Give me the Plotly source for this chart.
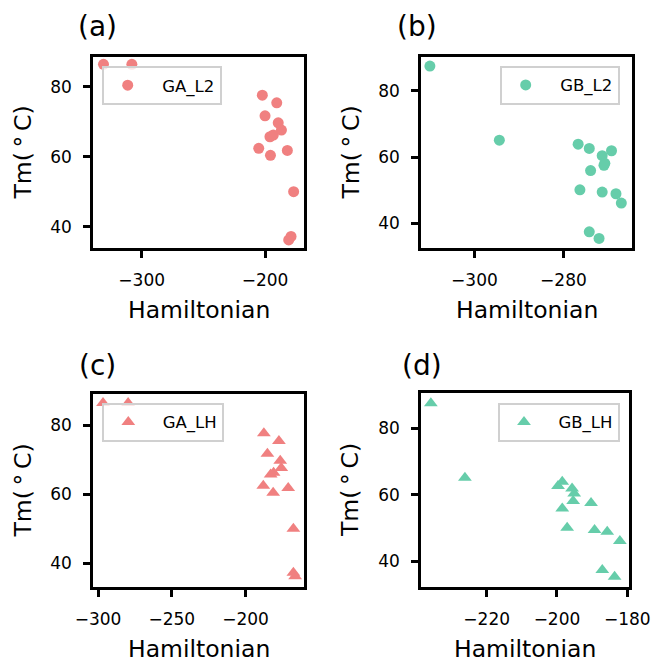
import plotly.graph_objects as go

W, H = 653, 662

# ---- data ----
ga_tm = [86.4, 86.4, 77.6, 75.4, 71.7, 69.7, 67.6, 66.2, 65.7, 62.4, 60.4, 61.8, 50.0, 37.2, 36.2]
ga_l2_ham = [-331, -308, -202.2, -190.5, -200, -189.3, -186.7, -193.3, -196, -205.1, -195.6, -181.9, -176.8, -178.9, -180.8]
ga_lh_ham = [-296.6, -279.6, -187.6, -177.4, -185.2, -176.5, -175.8, -181.0, -183.0, -188.0, -181.3, -171.1, -167.6, -167.6, -166.4]

gb_tm = [87.5, 65.1, 63.9, 62.6, 61.9, 60.4, 58.1, 57.5, 55.9, 50.1, 49.4, 48.9, 46.1, 37.4, 35.4]
gb_l2_ham = [-310, -294.4, -276.7, -274.2, -269.2, -271.3, -270.7, -270.9, -273.9, -276.3, -271.3, -268.2, -267.0, -274.2, -272.0]
gb_lh_ham = [-235.9, -226.2, -198.5, -199.7, -195.7, -195.1, -195.4, -190.3, -198.5, -197.1, -189.3, -185.7, -182.1, -187.1, -183.6]

series_names = ["GA_L2", "GB_L2", "GA_LH", "GB_LH"]
panel_labels = ["(a)", "(b)", "(c)", "(d)"]
x_title = "Hamiltonian"
y_title = "Tm(\u2009°\u2009C)"

RED = "#F08080"
GREEN = "#66CDAA"

def px_x(p):
    return p / W

def px_y(p):
    return 1 - p / H

# panel geometry in pixels: (left, right, top, bottom)
boxes = [(93, 304, 57, 248), (421, 632, 57, 248), (93, 304, 394, 587), (421, 629, 393, 587)]
xranges = [[-339.5, -168.4], [-312, -264.6], [-303.4, -160.4], [-238.7, -179.5]]
yranges = [[33.9, 88.5], [32.5, 90.25], [33.1, 89.0], [32.3, 90.55]]
xdticks = [100, 20, 50, 20]

datasets = [
    (ga_l2_ham, ga_tm, RED, "circle"),
    (gb_l2_ham, gb_tm, GREEN, "circle"),
    (ga_lh_ham, ga_tm, RED, "triangle-up"),
    (gb_lh_ham, gb_tm, GREEN, "triangle-up"),
]

fig = go.Figure()
FONT = "DejaVu Sans"
layout = dict(width=W, height=H, margin=dict(l=0, r=0, t=0, b=0),
              plot_bgcolor="white", paper_bgcolor="white", template="none",
              showlegend=True, annotations=[])

legend_pos = [(101.7, 66), (499.7, 65.7), (102.3, 402.7), (498, 402.7)]

for i, (xs, ys, col, sym) in enumerate(datasets):
    n = i + 1
    xa = "x" if n == 1 else f"x{n}"
    ya = "y" if n == 1 else f"y{n}"
    lg = "legend" if n == 1 else f"legend{n}"
    fig.add_trace(go.Scatter(
        x=xs, y=ys, mode="markers", name="\u00a0\u00a0" + series_names[i],
        xaxis=xa, yaxis=ya, legend=lg,
        marker=dict(color=col, symbol=sym, size=11 if sym == "circle" else 12,
                    line=dict(width=0)),
    ))
    l, r, t, b = boxes[i]
    axkw = dict(showline=True, mirror=True, linecolor="black", linewidth=2.5,
                ticks="outside", ticklen=7, tickwidth=2.5, tickcolor="black",
                showgrid=False, zeroline=False, automargin=False,
                tickfont=dict(family=FONT, size=17, color="black"))
    layout[f"xaxis{'' if n == 1 else n}"] = dict(
        domain=[px_x(l), px_x(r)], range=xranges[i], dtick=xdticks[i], tick0=0,
        anchor=ya, ticklabelstandoff=8, **axkw)
    layout[f"yaxis{'' if n == 1 else n}"] = dict(
        domain=[px_y(b), px_y(t)], range=yranges[i], dtick=20, tick0=0,
        anchor=xa, ticklabelstandoff=8, **axkw)
    lx, ly = legend_pos[i]
    layout[lg] = dict(x=px_x(lx), y=px_y(ly), xanchor="left", yanchor="top",
                      xref="paper", yref="paper",
                      bgcolor="rgba(255,255,255,0.8)", bordercolor="#D0D0D0",
                      borderwidth=2, font=dict(family=FONT, size=16.5, color="black"),
                      itemwidth=38)
    cx = (l + r) / 2
    cy = (t + b) / 2
    layout["annotations"] += [
        dict(text=x_title, x=px_x(cx), y=px_y(b + 62), xref="paper", yref="paper",
             xanchor="center", yanchor="middle", showarrow=False,
             font=dict(family=FONT, size=23.5, color="black")),
        dict(text=y_title, x=px_x(22 if i % 2 == 0 else 350), y=px_y(cy), xref="paper", yref="paper",
             xanchor="center", yanchor="middle", showarrow=False, textangle=-90,
             font=dict(family=FONT, size=23.5, color="black")),
    ]

title_pos = [(97.5, 26), (417, 26), (97.2, 365), (421.7, 365)]
for lab, (tx, ty) in zip(panel_labels, title_pos):
    layout["annotations"].append(dict(text=lab, x=px_x(tx), y=px_y(ty), xref="paper", yref="paper",
                                      xanchor="center", yanchor="middle", showarrow=False,
                                      font=dict(family=FONT, size=28, color="black")))

fig.update_layout(**layout)
fig.write_html("out.html")
